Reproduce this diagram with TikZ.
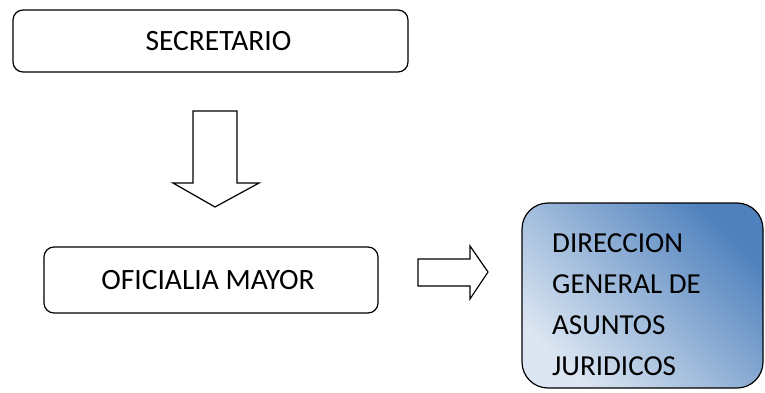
\documentclass[tikz,border=0pt]{standalone}
\usepackage{fontspec}
\setmainfont{Carlito}
\definecolor{darkblue}{HTML}{4F81BD}
\definecolor{lightblue}{HTML}{DCE6F2}
\tikzset{
  orgbox/.style={draw=black, line width=1.2pt, rounded corners=10pt, fill=white,
    inner sep=0pt, font=\fontsize{29.5}{34}\selectfont},
  blockarrow/.style={draw=black, line width=1.2pt, fill=white, line join=miter},
}
\begin{document}
\begin{tikzpicture}[x=1pt,y=-1pt]
\useasboundingbox (0,0) rectangle (765,393);
\node[orgbox, minimum width=395pt, minimum height=62pt] (sec) at (210.5,41) {\hspace*{16pt}SECRETARIO};
\node[orgbox, minimum width=334pt, minimum height=66pt] (ofi) at (211,280) {OFICIALIA MAYOR\hspace*{6pt}};
\node[draw=black, line width=1.2pt, rounded corners=26pt, minimum width=241pt, minimum height=185pt,
  top color=darkblue, bottom color=lightblue, shading angle=-45, inner sep=0pt] (dir) at (642.5,295.5) {};
\node[anchor=north west, inner sep=0pt, align=left, font=\fontsize{29}{41}\selectfont] (dirtext) at (552,233)
  {DIRECCION\\GENERAL DE\\ASUNTOS\\JURIDICOS};
% down block arrow
\draw[blockarrow] (193,111) -- (237,111) -- (237,183) -- (259,183) -- (215,207) -- (173,183) -- (193,183) -- cycle;
% right block arrow
\draw[blockarrow] (418,259) -- (470,259) -- (470,246) -- (488,272) -- (470,299) -- (470,286) -- (418,286) -- cycle;
\end{tikzpicture}
\end{document}
